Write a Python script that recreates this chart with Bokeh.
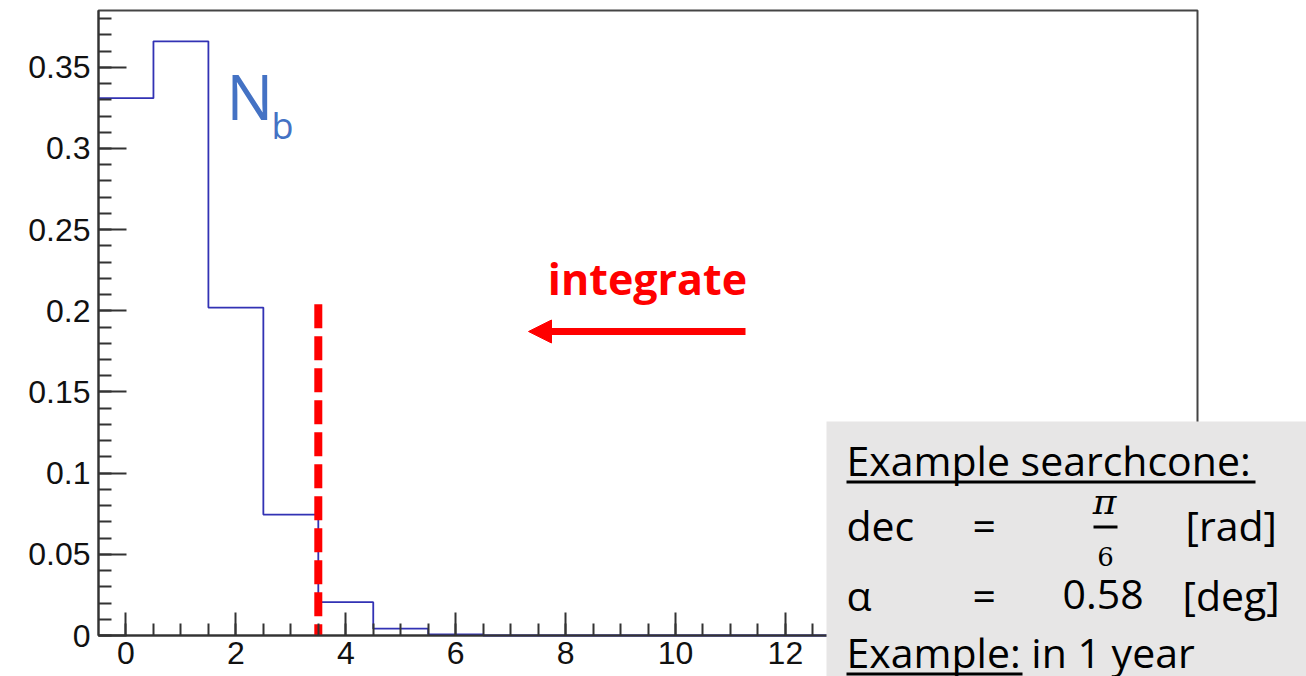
from bokeh.plotting import figure
from bokeh.models import (Range1d, FixedTicker, Label, BoxAnnotation, Arrow, NormalHead)
from bokeh.embed import file_html
from bokeh.resources import INLINE

# --- histogram content (normalised number of background events per bin) ---
bin_edges = [i - 0.5 for i in range(21)]
bin_values = [0.331, 0.366, 0.202, 0.0745, 0.0205, 0.0042, 0.0007,
              0, 0, 0, 0, 0, 0, 0, 0, 0, 0, 0, 0, 0]

# integration cut
cut_value = 3.5
cut_height = 0.204

# axis ticks
x_major = [0, 2, 4, 6, 8, 10, 12, 14, 16, 18]
x_minor = [0.5 * k for k in range(0, 40)]
y_major = [0, 0.05, 0.1, 0.15, 0.2, 0.25, 0.3, 0.35]
y_major_labels = ["0", "0.05", "0.1", "0.15", "0.2", "0.25", "0.3", "0.35"]
y_minor = [round(0.01 * k, 2) for k in range(0, 39)]

# histogram frame in data coordinates
X_LO, X_HI = -0.5, 19.5
Y_LO, Y_HI = 0.0, 0.385

# canvas and where the histogram frame sits on it (pixels)
W, H = 1306, 676
FL, FR, FT, FB = 98, 1197, 10, 635
SX = (X_HI - X_LO) / (FR - FL)
SY = (Y_HI - Y_LO) / (FB - FT)


def xd(px):
    return X_LO + (px - FL) * SX


def yd(py):
    return Y_LO + (FB - py) * SY


# the plotting area spans the whole canvas; the axes are pinned at the frame edges
p = figure(width=W, height=H,
           x_range=Range1d(xd(0), xd(W)), y_range=Range1d(yd(H), yd(0)),
           output_backend="svg", toolbar_location=None,
           min_border=0, min_border_left=0, min_border_right=0,
           min_border_top=0, min_border_bottom=0)
p.grid.visible = False
p.background_fill_color = "white"
p.border_fill_color = "white"
p.outline_line_color = None

axis_color = "#333333"
for ax in (p.xaxis[0], p.yaxis[0]):
    ax.axis_line_color = axis_color
    ax.axis_line_width = 2
    ax.major_tick_line_color = axis_color
    ax.minor_tick_line_color = axis_color
    ax.major_tick_line_width = 2
    ax.minor_tick_line_width = 2
    ax.major_tick_out = 0
    ax.minor_tick_out = 0
    ax.major_label_text_font = "Liberation Sans"
    ax.major_label_text_font_size = "32px"
    ax.major_label_text_color = "#111111"

p.xaxis.fixed_location = Y_LO
p.xaxis.bounds = (X_LO, X_HI)
p.xaxis.ticker = FixedTicker(ticks=x_major, minor_ticks=x_minor)
p.xaxis.major_tick_in = 23
p.xaxis.minor_tick_in = 12
p.xaxis.major_label_standoff = 6

p.yaxis.fixed_location = X_LO
p.yaxis.bounds = (Y_LO, Y_HI)
p.yaxis.ticker = FixedTicker(ticks=y_major, minor_ticks=y_minor)
p.yaxis.major_label_overrides = dict(zip(y_major, y_major_labels))
p.yaxis.major_tick_in = 28
p.yaxis.minor_tick_in = 13
p.yaxis.major_label_standoff = 8

# frame box
p.add_layout(BoxAnnotation(left=X_LO, right=X_HI, bottom=Y_LO, top=Y_HI,
                           fill_alpha=0, line_color="#444444", line_alpha=1.0,
                           line_width=2, level="underlay"))

# histogram outline
hx, hy = [], []
for i, v in enumerate(bin_values):
    hx += [bin_edges[i], bin_edges[i + 1]]
    hy += [v, v]
p.line(hx, hy, line_color="#3232b4", line_width=1.8)

# cut line, drawn top-down so the dash pattern starts at the top
p.line([cut_value, cut_value], [cut_height, 0], line_color="#ff0000", line_width=8,
       line_dash="24 8", line_cap="butt")


def txt(x, base, s, fs=41, font="Open Sans", k=0.39, **kw):
    # place text by its baseline (pixels); the label anchor is the text middle
    opts = dict(text_font=font, text_font_size=f"{fs}px", text_color="black",
                text_baseline="middle", level="overlay")
    opts.update(kw)
    p.add_layout(Label(x=xd(x), y=yd(base - k * fs), text=s, **opts))


def rule(x0, x1, y0, y1):
    p.add_layout(BoxAnnotation(left=xd(x0), right=xd(x1), top=yd(y0), bottom=yd(y1),
                               fill_color="black", fill_alpha=1.0, line_color=None,
                               level="overlay"))


# N_b label
txt(226, 120, "N", fs=62, text_color="#4472c4")
txt(271, 139, "b", fs=36, text_color="#4472c4")

# integrate annotation
txt(647, 295, "integrate", fs=43, text_font_style="bold", text_color="#ff0000",
    text_align="center")
p.add_layout(Arrow(end=NormalHead(size=23, fill_color="#ff0000", line_color="#ff0000"),
                   x_start=xd(745), y_start=yd(331), x_end=xd(528), y_end=yd(331),
                   line_color="#ff0000", line_width=7))

# info box
p.add_layout(BoxAnnotation(left=xd(826), right=xd(W + 4), top=yd(421), bottom=yd(H + 4),
                           fill_color="#e7e6e6", fill_alpha=1.0, line_color=None,
                           level="overlay"))

txt(846, 475, "Example searchcone:")
rule(846, 1255, 480, 483)
txt(846, 540, "dec")
txt(972, 540, "=")
txt(1104, 514, "π", fs=36, font="DejaVu Serif", k=0.36, text_font_style="italic",
    text_align="center")
rule(1093, 1117, 525, 528)
txt(1105, 565, "6", fs=26, font="DejaVu Serif", k=0.36, text_align="center")
txt(1185, 540, "[rad]")
txt(846, 610, "α")
txt(972, 610, "=")
txt(1062, 610, "0.58")
txt(1182, 610, "[deg]")
txt(846, 667, "Example: in 1 year")
rule(846, 1022, 672, 675)

open("out.html", "w").write(file_html(p, INLINE))
